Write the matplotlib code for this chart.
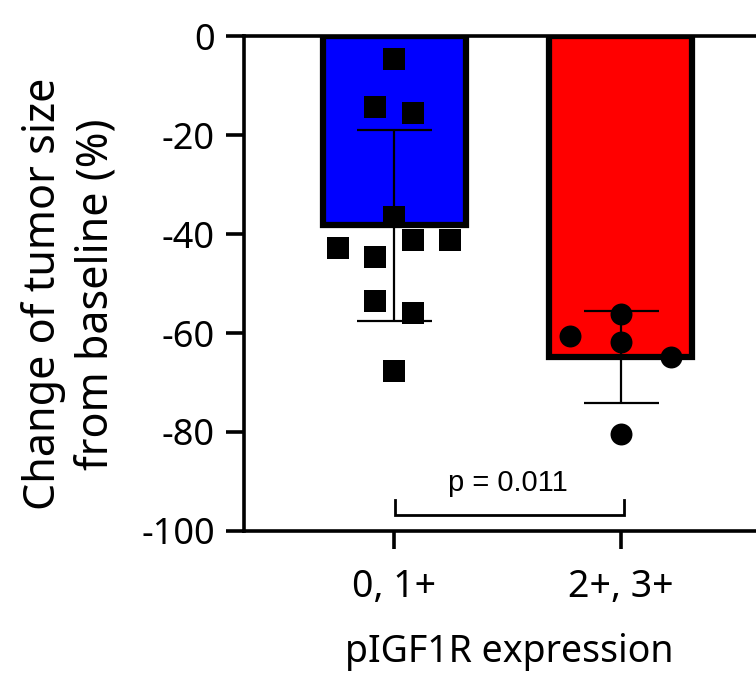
import matplotlib.pyplot as plt
import numpy as np

plt.rcParams['font.family'] = ['Noto Sans', 'DejaVu Sans']
plt.rcParams['axes.unicode_minus'] = False

groups = ['0, 1+', '2+, 3+']
means = [-38.2, -64.8]
sds = [19.3, 9.3]
colors = ['#0000ff', '#ff0000']

# individual patients
low_vals = [-4.6, -14.3, -15.5, -36.6, -42.8, -41.3, -41.2, -44.7, -53.5, -55.9, -67.7]
high_vals = [-60.7, -56.2, -61.8, -64.8, -80.4]

# horizontal spread of the dots (data units)
low_jit = [0, -0.084, 0.084, 0, -0.247, 0.084, 0.247, -0.084, -0.084, 0.084, 0]
high_jit = [-0.225, 0, 0, 0.22, 0]

p_text = 'p = 0.011'

fig = plt.figure(figsize=(7.56, 6.73), dpi=100)
ax = fig.add_axes([0.3228, 0.211, 0.6772, 0.7355])

x = np.arange(len(groups))
ax.bar(x, means, width=0.63, color=colors, edgecolor='black', linewidth=4.5, zorder=2)
ax.errorbar(x, means, yerr=sds, fmt='none', ecolor='black', elinewidth=1.6,
            capsize=27, capthick=1.6, zorder=3)

ax.scatter(x[0] + np.array(low_jit), low_vals, marker='s', s=15.8**2,
           color='black', linewidths=0, zorder=4)
ax.scatter(x[1] + np.array(high_jit), high_vals, marker='o', s=15.8**2,
           color='black', linewidths=0, zorder=4)

# significance bracket
ax.plot([0.005, 0.005, 1.013, 1.013], [-93.7, -96.8, -96.8, -93.7],
        color='black', lw=2, solid_joinstyle='miter', zorder=3)
ax.text(0.5, -90.3, p_text, ha='center', va='center', fontsize=21,
        family=['Liberation Sans', 'DejaVu Sans'])

ax.set_xlim(-0.661, 1.595)
ax.set_ylim(-100, 0)
ax.set_yticks(np.arange(-100, 1, 20))
ax.set_xticks(x)
ax.set_xticklabels(groups)

for s in ['top', 'bottom', 'left']:
    ax.spines[s].set_linewidth(2.6)
ax.spines['right'].set_visible(False)
ax.tick_params(axis='both', length=13, width=2.6, labelsize=26)
ax.tick_params(axis='y', pad=8)
ax.tick_params(axis='x', pad=14, labelsize=27)

ax.set_ylabel('Change of tumor size\nfrom baseline (%)', fontsize=31,
              linespacing=1.25)
ax.yaxis.label.set_va('center')
ax.yaxis.set_label_coords(-0.34, 0.479)
ax.set_xlabel('pIGF1R expression', fontsize=27)
ax.xaxis.label.set_va('center')
ax.xaxis.set_label_coords(0.518, (531 - 652) / 495)

fig.savefig('out.png', dpi=100)
